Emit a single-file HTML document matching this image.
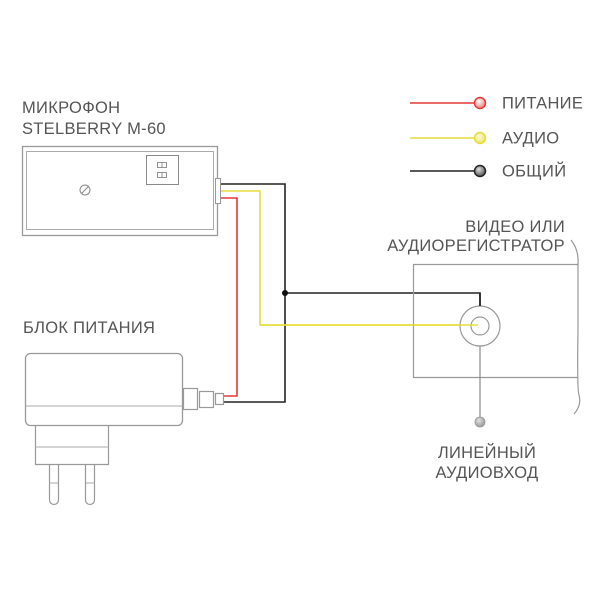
<!DOCTYPE html>
<html><head><meta charset="utf-8"><style>
html,body{margin:0;padding:0;background:#fff;}
svg{display:block;}
text{font-family:"Liberation Sans","DejaVu Sans",sans-serif;font-size:16.5px;letter-spacing:0.3px;fill:#555;}
</style></head><body>
<svg width="600" height="600" viewBox="0 0 600 600" xmlns="http://www.w3.org/2000/svg">
<defs>
<radialGradient id="gr" cx="40%" cy="35%" r="65%"><stop offset="0" stop-color="#fff"/><stop offset="1" stop-color="#f08080"/></radialGradient>
<radialGradient id="gy" cx="40%" cy="35%" r="65%"><stop offset="0" stop-color="#fffbe0"/><stop offset="1" stop-color="#ece36a"/></radialGradient>
<radialGradient id="gk" cx="40%" cy="35%" r="65%"><stop offset="0" stop-color="#ddd"/><stop offset="1" stop-color="#555"/></radialGradient>
<radialGradient id="gg" cx="40%" cy="35%" r="65%"><stop offset="0" stop-color="#e0e0e0"/><stop offset="1" stop-color="#999"/></radialGradient>
</defs>

<!-- Mic labels -->
<text x="22" y="113">МИКРОФОН</text>
<text x="22" y="134">STELBERRY M-60</text>

<!-- Mic body -->
<rect x="22.5" y="146.5" width="195" height="89" fill="none" stroke="#999" stroke-width="1.3"/>
<rect x="26.5" y="151.5" width="187" height="78" fill="none" stroke="#aaa" stroke-width="1"/>
<rect x="146.5" y="155.5" width="32" height="29" fill="none" stroke="#888" stroke-width="1"/>
<rect x="157.5" y="162.5" width="9" height="5" fill="none" stroke="#888" stroke-width="0.9"/>
<line x1="162" y1="162.5" x2="162" y2="167.5" stroke="#888" stroke-width="0.9"/>
<rect x="157.5" y="172.5" width="9" height="5" fill="none" stroke="#888" stroke-width="0.9"/>
<line x1="162" y1="172.5" x2="162" y2="177.5" stroke="#888" stroke-width="0.9"/>
<circle cx="85" cy="190" r="5" fill="none" stroke="#888" stroke-width="1"/>
<line x1="81.5" y1="193.5" x2="88.5" y2="186.5" stroke="#888" stroke-width="1"/>
<rect x="215.5" y="178.5" width="5" height="25" fill="#fff" stroke="#999" stroke-width="1"/>

<!-- Wires -->
<polyline points="221,184 285,184 285,402 224,402" fill="none" stroke="#222" stroke-width="1.6"/>
<polyline points="221,191 260,191 260,325 480,325" fill="none" stroke="#e6dc3a" stroke-width="1.6"/>
<polyline points="221,198 237,198 237,396 224,396" fill="none" stroke="#e53935" stroke-width="1.6"/>
<polyline points="285,293 480,293 480,306" fill="none" stroke="#222" stroke-width="1.6"/>
<circle cx="285" cy="293" r="3" fill="#111"/>

<!-- Power supply -->
<text x="23" y="333">БЛОК ПИТАНИЯ</text>
<rect x="25.5" y="353.5" width="157" height="72" rx="5" fill="none" stroke="#999" stroke-width="1.3"/>
<line x1="25.5" y1="406" x2="182.5" y2="406" stroke="#aaa" stroke-width="1"/>
<path d="M35.5 425.5 V464.5 H108.5 V425.5" fill="none" stroke="#999" stroke-width="1.2"/>
<line x1="35.5" y1="447" x2="108.5" y2="447" stroke="#aaa" stroke-width="1"/>
<path d="M49.5 464.5 V500 a4.5 4.5 0 0 0 9 0 V464.5" fill="none" stroke="#999" stroke-width="1.2"/>
<line x1="49.5" y1="483" x2="58.5" y2="483" stroke="#aaa" stroke-width="1"/>
<path d="M85.5 464.5 V500 a4.5 4.5 0 0 0 9 0 V464.5" fill="none" stroke="#999" stroke-width="1.2"/>
<line x1="85.5" y1="483" x2="94.5" y2="483" stroke="#aaa" stroke-width="1"/>
<rect x="183.5" y="388.5" width="14" height="21" fill="#fff" stroke="#999" stroke-width="1.2"/>
<rect x="199.5" y="391.5" width="14" height="16" fill="#fff" stroke="#999" stroke-width="1.2"/>
<rect x="215.5" y="393.5" width="8" height="11" fill="#fff" stroke="#999" stroke-width="1.2"/>

<!-- Recorder -->
<text x="565" y="232" text-anchor="end">ВИДЕО ИЛИ</text>
<text x="565" y="251" text-anchor="end">АУДИОРЕГИСТРАТОР</text>
<path d="M578 264.5 H413.5 V377.5 H578" fill="none" stroke="#999" stroke-width="1.2"/>
<path d="M571 240 Q579 250 578 264 L578 330 Q577 390 579 395 Q582 405 574 414" fill="none" stroke="#999" stroke-width="1.2"/>
<circle cx="480" cy="326" r="20" fill="#fff" stroke="#999" stroke-width="1.2"/>
<circle cx="480" cy="326" r="9" fill="none" stroke="#999" stroke-width="1.2"/>
<line x1="262" y1="325" x2="478" y2="325" stroke="#e6dc3a" stroke-width="1.6"/>
<line x1="480" y1="293" x2="480" y2="306" stroke="#222" stroke-width="1.6"/>
<line x1="480" y1="346" x2="480" y2="418" stroke="#888" stroke-width="1.2"/>
<circle cx="480" cy="422" r="5" fill="url(#gg)" stroke="#999" stroke-width="0.8"/>
<text x="487" y="458" text-anchor="middle">ЛИНЕЙНЫЙ</text>
<text x="487" y="478" text-anchor="middle">АУДИОВХОД</text>

<!-- Legend -->
<line x1="410" y1="103" x2="475" y2="103" stroke="#e53935" stroke-width="1.6"/>
<circle cx="480" cy="103" r="5.5" fill="url(#gr)" stroke="#e53935" stroke-width="1.5"/>
<text x="502" y="108.5">ПИТАНИЕ</text>
<line x1="410" y1="138" x2="475" y2="138" stroke="#e6dc3a" stroke-width="1.6"/>
<circle cx="480" cy="138" r="5.5" fill="url(#gy)" stroke="#e6dc3a" stroke-width="1.5"/>
<text x="502" y="143.5">АУДИО</text>
<line x1="410" y1="171" x2="475" y2="171" stroke="#222" stroke-width="1.6"/>
<circle cx="480" cy="171" r="5.5" fill="url(#gk)" stroke="#222" stroke-width="1.5"/>
<text x="502" y="176.5">ОБЩИЙ</text>
</svg>
</body></html>
